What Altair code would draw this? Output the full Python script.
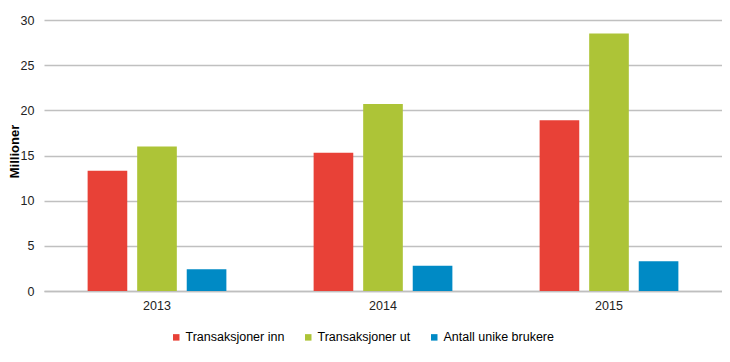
import altair as alt
import pandas as pd

years = ["2013", "2014", "2015"]
series = ["Transaksjoner inn", "Transaksjoner ut", "Antall unike brukere"]
inn = [13.3, 15.3, 18.9]
ut = [16.0, 20.7, 28.5]
brukere = [2.4, 2.8, 3.3]
colors = ["#E84137", "#ADC437", "#008AC5"]

rows = []
for vals, s in zip([inn, ut, brukere], series):
    for y, v in zip(years, vals):
        rows.append({"year": y, "series": s, "value": v})
df = pd.DataFrame(rows)

FONT = "Liberation Sans"

chart = alt.Chart(df).mark_bar().encode(
    x=alt.X("year:N", sort=years, title=None,
            scale=alt.Scale(paddingInner=0.386, paddingOuter=0.193),
            axis=alt.Axis(labelAngle=0, ticks=False, domain=True, domainColor="#BFBFBF",
                          domainWidth=1.5, labelPadding=8, labelFontSize=12.5,
                          labelColor="#222222", labelFont=FONT)),
    xOffset=alt.XOffset("series:N", sort=series,
                        scale=alt.Scale(paddingInner=0.2, paddingOuter=0)),
    y=alt.Y("value:Q", title="Millioner",
            scale=alt.Scale(domain=[0, 30]),
            axis=alt.Axis(values=[0, 5, 10, 15, 20, 25, 30], domain=False, ticks=False,
                          gridColor="#C0C0C0", gridWidth=1.5, labelPadding=10,
                          labelFontSize=12.5, labelColor="#222222", labelFont=FONT,
                          titleFont=FONT, titleFontSize=13, titleFontWeight="bold",
                          titleColor="#000000", titleAngle=270, titleBaseline="bottom",
                          titleX=-22.5, titleY=131, titleAlign="center")),
    color=alt.Color("series:N", sort=series, title=None,
                    scale=alt.Scale(domain=series, range=colors),
                    legend=alt.Legend(orient="none", legendX=126, legendY=311,
                                      direction="horizontal", symbolType="square",
                                      symbolSize=42, symbolStrokeWidth=0,
                                      labelFontSize=12.5, labelFont=FONT,
                                      labelColor="#000000", columnPadding=17,
                                      labelOffset=3, padding=0)),
).properties(
    width=678, height=271,
    padding={"left": 36, "top": 12, "right": 0, "bottom": 60},
    autosize=alt.AutoSizeParams(type="none"),
).configure_view(stroke=None)

chart.save("out.html", embed_options={"renderer": "svg", "actions": False})
